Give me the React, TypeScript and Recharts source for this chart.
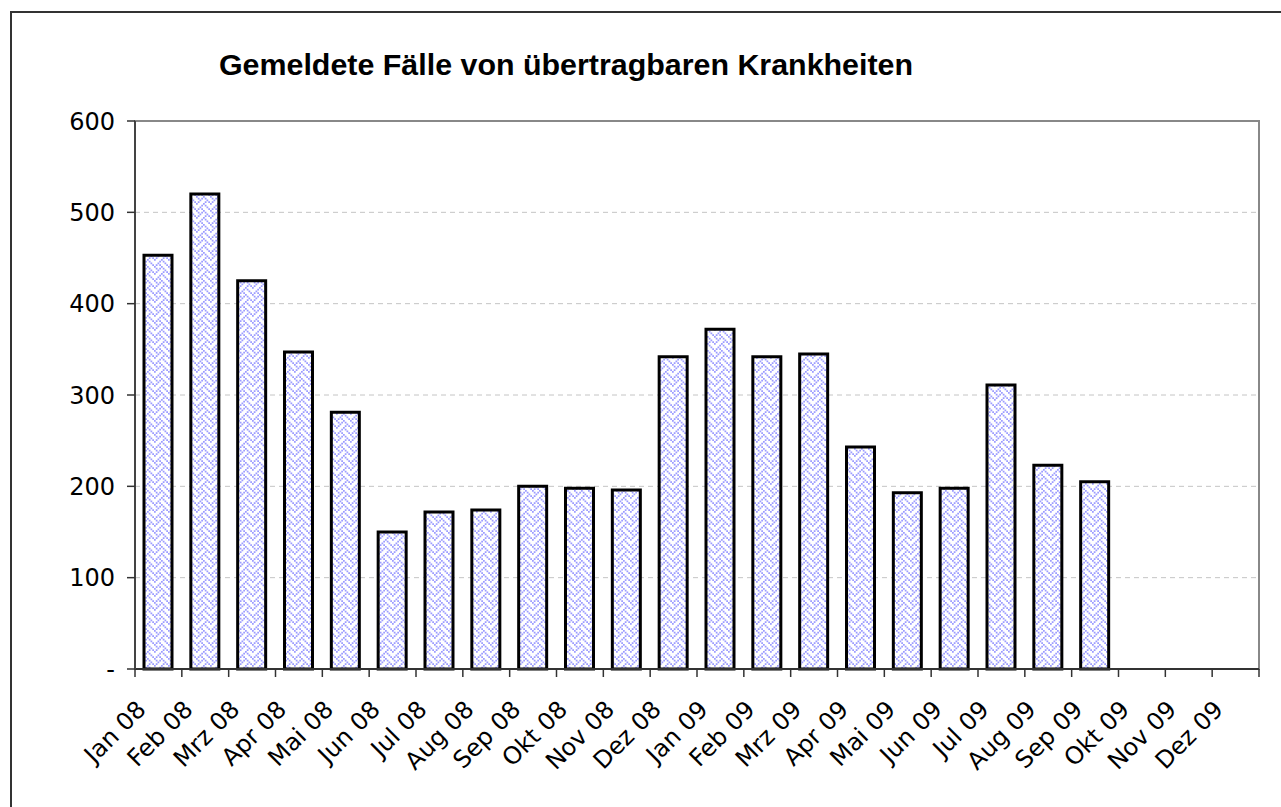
import React from 'react';
import { BarChart, Bar, XAxis, YAxis, CartesianGrid, ReferenceArea } from 'recharts';

const title = 'Gemeldete Fälle von übertragbaren Krankheiten';
const months = [
  'Jan 08', 'Feb 08', 'Mrz 08', 'Apr 08', 'Mai 08', 'Jun 08',
  'Jul 08', 'Aug 08', 'Sep 08', 'Okt 08', 'Nov 08', 'Dez 08',
  'Jan 09', 'Feb 09', 'Mrz 09', 'Apr 09', 'Mai 09', 'Jun 09',
  'Jul 09', 'Aug 09', 'Sep 09', 'Okt 09', 'Nov 09', 'Dez 09',
];
const cases: (number | null)[] = [
  453, 520, 425, 347, 281, 150,
  172, 174, 200, 198, 196, 342,
  372, 342, 345, 243, 193, 198,
  311, 223, 205, null, null, null,
];
const yTicks = [0, 100, 200, 300, 400, 500, 600];
const gridValues = [100, 200, 300, 400, 500];

const data = months.map((m, i) => ({ month: m, value: cases[i] }));

// layout constants
const W = 1281;
const H = 807;
const PLOT_LEFT = 135;
const PLOT_RIGHT = 1259;
const PLOT_TOP = 121;
const PLOT_BOTTOM = 669;
const PLOT_W = PLOT_RIGHT - PLOT_LEFT;
const X_TICK_SIZE = 8;
const X_TICK_MARGIN = 2;
const FONT = '"DejaVu Sans", Verdana, sans-serif';
const TICK_FS = 24;

// 8x8 weave bitmap used for the bar fill
const weaveRows = [
  'X...X...',
  '.X.X.X..',
  '..X...X.',
  '.X...X.X',
  'X...X...',
  '...X.X..',
  '..X...X.',
  '.X.X...X',
];
const CELL = 1.75;

const XTick = (props: any) => {
  const { x, y, payload, index } = props;
  const half = PLOT_W / months.length / 2;
  const axisY = y - X_TICK_SIZE - X_TICK_MARGIN;
  const ax = x - 11;
  const ay = axisY + 42;
  return (
    <g>
      <line x1={x - half} x2={x - half} y1={axisY} y2={axisY + 8} stroke="#333" strokeWidth={1.5} />
      {index === months.length - 1 && (
        <line x1={x + half} x2={x + half} y1={axisY} y2={axisY + 8} stroke="#333" strokeWidth={1.5} />
      )}
      <text
        x={ax}
        y={ay}
        transform={`rotate(-45, ${ax}, ${ay})`}
        textAnchor="end"
        fontSize={TICK_FS}
        fontFamily={FONT}
        fill="#000"
      >
        {payload.value}
      </text>
    </g>
  );
};

export default function App() {
  return (
    <div
      style={{
        position: 'fixed',
        left: 0,
        top: 0,
        width: W,
        height: H,
        overflow: 'hidden',
        background: '#fff',
      }}
    >
      <div
        style={{
          position: 'absolute',
          left: 10,
          top: 11,
          width: 1400,
          height: 900,
          border: '2px solid #333',
          boxSizing: 'border-box',
        }}
      />
      <svg style={{ position: 'absolute', left: 0, top: 0 }} width={W} height={100}>
        <text
          x={566}
          y={75}
          textAnchor="middle"
          fontSize={30.4}
          fontWeight="bold"
          fontFamily='"Liberation Sans", Arial, sans-serif'
          fill="#000"
        >
          {title}
        </text>
      </svg>
      <div style={{ position: 'absolute', left: 0, top: 0 }}>
        <BarChart
          width={W}
          height={H}
          data={data}
          margin={{ top: PLOT_TOP, right: W - PLOT_RIGHT, bottom: 0, left: 0 }}
          barSize={28}
        >
          <defs>
            <pattern id="weave" patternUnits="userSpaceOnUse" width={8 * CELL} height={8 * CELL}>
              <rect x={0} y={0} width={8 * CELL} height={8 * CELL} fill="#ffffff" />
              {weaveRows.map((row, r) =>
                row.split('').map((c, k) =>
                  c === 'X' ? (
                    <rect key={`${r}-${k}`} x={k * CELL} y={r * CELL} width={CELL} height={CELL} fill="#9c9cff" />
                  ) : null
                )
              )}
            </pattern>
          </defs>
          <CartesianGrid
            vertical={false}
            horizontalValues={gridValues}
            stroke="#c4c4c4"
            strokeDasharray="5 4"
          />
          <ReferenceArea
            x1={months[0]}
            x2={months[months.length - 1]}
            y1={0}
            y2={600}
            fill="none"
            fillOpacity={0}
            stroke="#888"
            strokeWidth={2}
          />
          <XAxis
            dataKey="month"
            interval={0}
            height={H - PLOT_BOTTOM}
            tickSize={X_TICK_SIZE}
            tickMargin={X_TICK_MARGIN}
            tickLine={false}
            axisLine={{ stroke: '#333', strokeWidth: 2 }}
            tick={<XTick />}
          />
          <YAxis
            width={PLOT_LEFT}
            domain={[0, 600]}
            ticks={yTicks}
            interval={0}
            tickSize={8}
            tickMargin={12}
            tickFormatter={(v: number) => (v === 0 ? '-' : String(v))}
            tick={{ fontSize: TICK_FS, fontFamily: FONT, fill: '#000' }}
            tickLine={{ stroke: '#333', strokeWidth: 1.5 }}
            axisLine={{ stroke: '#444', strokeWidth: 2 }}
          />
          <Bar
            dataKey="value"
            fill="url(#weave)"
            stroke="#000"
            strokeWidth={3}
            isAnimationActive={false}
          />
        </BarChart>
      </div>
    </div>
  );
}
